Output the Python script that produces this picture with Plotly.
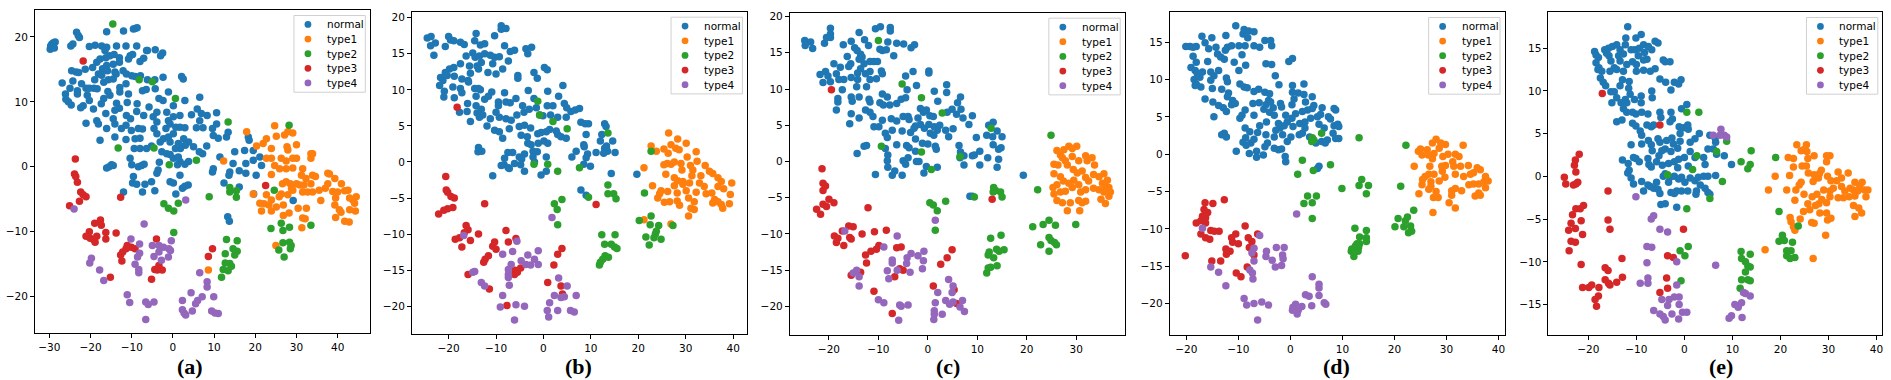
import plotly.graph_objects as go

# t-SNE style embeddings, five panels (a)-(e)
LABELS = ["normal", "type1", "type2", "type3", "type4"]
COLORS = ["#1f77b4", "#ff7f0e", "#2ca02c", "#d62728", "#9467bd"]
TAGS = ["(a)", "(b)", "(c)", "(d)", "(e)"]

# ---- panel (a)
A_NORMAL = [
    [-29.8, 18.1], [-29.4, 18.9], [-29, 19.1], [-28.6, 19.2], [-29.7, 18.6], [-28.8, 18.3],
    [-24.8, 18.6], [-24.3, 18.9], [-23.4, 20.7], [-23, 20.2], [-22.7, 19.9], [-16.1, 20.8],
    [-12, 20.9], [-9.6, 21.2], [-9.2, 21.3], [-8.7, 21.4], [-20.3, 18.5], [-18.9, 18.7],
    [-17.3, 18.6], [-16.1, 18.4], [-13.7, 18.6], [-11.4, 18.6], [-8.8, 18.6], [-6.2, 17.9],
    [-4.3, 18], [-2.5, 17.5], [-3, 17.1], [-24.6, 14.8], [-23.5, 14.6], [-22.9, 14.5],
    [-21.3, 15], [-19.5, 15.3], [-18.5, 16.1], [-17.7, 16.6], [-16.3, 16.8], [-16.5, 17.9],
    [-15.3, 17.1], [-14.3, 17.3], [-13, 16.8], [-13, 16.1], [-14.5, 15.8], [-16.1, 15.6],
    [-17.1, 15.1], [-18.1, 14.3], [-17.3, 14.1], [-15.9, 14.8], [-14.1, 14.6], [-12.1, 14.8],
    [-11.3, 14.3], [-10, 14], [-9.2, 13.9], [-10.8, 16.6], [-10.4, 17.1], [-9.8, 17.3],
    [-8, 16.2], [-7.1, 16.7], [-6.4, 17.9], [-26.9, 12.9], [-26.1, 11.2], [-26, 10.4],
    [-25.4, 10], [-24.7, 9.5], [-25, 12.1], [-24.3, 13.2], [-23.2, 11.7], [-23.2, 11.2],
    [-22.2, 12.8], [-21.1, 12.1], [-20.3, 12.1], [-20.8, 11], [-20.3, 10.2], [-21.8, 9.4],
    [-22.4, 9.1], [-19.2, 12.1], [-18.4, 12], [-19, 13.4], [-16.8, 13], [-15.7, 13.4],
    [-14.5, 13.5], [-13.8, 14.3], [-12.9, 12.2], [-12.9, 11.5], [-11.4, 12.8], [-10.8, 11.2],
    [-11.1, 9.9], [-13, 9], [-14.1, 8.7], [-13.7, 9.8], [-15.8, 11.6], [-16.8, 10.5],
    [-15.3, 11], [-17.4, 9.7], [-19.3, 8.9], [-21.1, 6.7], [-18.5, 7.1], [-18.1, 6.6],
    [-17.7, 4.1], [-16.1, 5.9], [-16.3, 8.2], [-14.5, 7.4], [-14.1, 6.6], [-14.1, 4.6],
    [-12.5, 5.9], [-11.4, 6.4], [-11.3, 7.9], [-10.3, 7.4], [-10.1, 5.6], [-11.4, 4.2],
    [-9.2, 4.3], [-9.4, 2.8], [-8.4, 5.9], [-7.4, 5.8], [-8, 4.4], [-8.8, 8.5], [-8.7, 9.7],
    [-7.1, 7.9], [-7.4, 11.7], [-6.5, 11.9], [-6.2, 13.4], [-7.9, 14], [-4.4, 13.4],
    [-2.4, 13.8], [-4.3, 12], [-3.4, 10.5], [-1.1, 11.5], [-2.4, 10.2], [-3.9, 8.4],
    [-5.8, 9.2], [-4.8, 7.7], [-3.9, 6.9], [-4.6, 5.9], [-3.9, 5.1], [-5.2, 3.2], [-6.4, 2.8],
    [-8, 2.8], [-10.4, 1.3], [-10, 0.3], [-8.4, 0], [-7.6, 0.2], [-7, 0.4], [-16.1, -0.2],
    [-15.5, 0], [-14.9, 0.3], [-14.5, 0.2], [-9.6, -1.5], [-9.8, -2.5], [-8.8, -2.7],
    [-6.8, -2.7], [-7.4, -3.9], [-12, -3.9], [-5.2, -2.3], [-4.4, -3.7], [-3.9, -1],
    [-3.6, -0.5], [-3.3, 0.7], [-2.7, 2.3], [-3.1, 3.8], [-2.3, 4.3], [-1.7, 5.9], [-1.1, 7.1],
    [-1.5, 8.4], [0.1, 9.4], [1.7, 7.9], [0.1, 7.7], [-0.7, 6.6], [0.7, 6.1], [1.7, 6.1],
    [2.9, 6], [4.5, 8], [2.9, 10.2], [2.1, 13.9], [2.5, 13.5], [6.5, 10.7], [5.9, 8.9],
    [6.9, 8.2], [8.3, 7.9], [6.5, 7.1], [5.7, 6], [7.3, 6], [9.6, 5.9], [10.6, 8.3],
    [10.6, 6.6], [9.8, 4.8], [11, 4.4], [8.2, 3.2], [7.2, 2], [6.4, 2.3], [5, 3.1], [3.8, 3.8],
    [2.6, 4.3], [3, 3.3], [1.8, 2.8], [0.6, 2.8], [-0.7, 3.8], [-1.1, 4.6], [0.1, 5.1],
    [1.3, 3.6], [-1.5, 2], [-0.7, 1.9], [0.1, 1.3], [1.3, 1.5], [1.7, 0.8], [1.1, 0.3],
    [2.9, 0.4], [3.8, 0.8], [-0.7, -2.3], [0.1, -2.5], [1.7, -1.3], [0.7, -4.2], [2.3, -3.3],
    [3.7, -2.8], [2.9, -3], [11.4, 1.5], [13, 4.6], [13.4, 5.3], [9.8, -0.3], [9.6, -0.8],
    [12.4, -2.5], [13.8, -0.8], [13.6, -1.3], [14.6, 0.5], [15, 2.3], [16.1, -0.6],
    [17.4, 2.5], [17.7, 0.5], [17.7, -1], [18.3, 4.6], [18.5, 4.1], [19.5, 2.5], [19.5, 1],
    [20.2, -1.3], [21.1, 1.5], [21.5, 0.2], [16.1, -3.1], [19.6, -4.2], [13.3, -7.7],
    [13.7, -8.4], [29.2, -5.2],
]
A_TYPE1 = [
    [17.9, 5.4], [20.3, 3.2], [21.9, 3.6], [22.7, 4.3], [23.9, 2.8], [24.7, 6.3], [25.1, 4.7],
    [27.1, 4.9], [27.9, 5.4], [29.1, 5.2], [27.7, 3.1], [27.9, 2.6], [30, 3.4], [22.7, 1.3],
    [23.9, 1.3], [24.7, 0.2], [25.9, -0.3], [26.3, 1.3], [27.5, 0.9], [27.5, -0.3],
    [29.1, -0.2], [30, 1.3], [29.1, 1.3], [31.5, -0.3], [33.5, 2], [33.9, 2], [33.5, 1.3],
    [31.2, -1.3], [32.3, -1.8], [33.9, -1.3], [34.6, -1.5], [23.9, -1.2], [26.6, -2.6],
    [27.5, -2.3], [28.5, -2.6], [28.8, -3.4], [30, -2.6], [30.8, -2.8], [31.8, -2.8],
    [33.5, -2.6], [35.5, -3.6], [37, -3.3], [37.6, -1], [38, -1.1], [37.6, -2.6], [39.3, -1.8],
    [40.9, -2.6], [38.8, -3.8], [40, -3.9], [39.5, -4.8], [41.7, -3.7], [42.5, -3.6],
    [42.9, -4.8], [43.7, -5.1], [44.5, -4.6], [44.1, -5.6], [42.9, -6.6], [44.3, -6.8],
    [40.4, -6.6], [40.8, -7], [39.3, -5.9], [39.5, -7.8], [41.7, -8.4], [42.8, -8.5],
    [35.9, -5.2], [33.9, -3.9], [32.7, -3.9], [31.5, -3.9], [29.1, -3.6], [27.9, -4.3],
    [26.3, -4.2], [25.8, -4.6], [23.9, -5.1], [22.7, -4.3], [22.1, -5.7], [21.1, -5.6],
    [21.5, -6.8], [23.3, -5.9], [23.9, -6.8], [25.1, -6.2], [26.8, -5.9], [26.8, -7.5],
    [28.2, -7.1], [30.4, -6.4], [31.5, -7.9], [32.1, -8], [32.4, -6.4], [31.3, -9.4],
    [19.5, -4.2], [12.3, 0.9], [25, -12.1], [8.6, -15.9],
]
A_TYPE2 = [
    [-14.6, 22], [-8.2, 13.4], [-5, 13.1], [0.6, 10.5], [-13.3, 2.9], [-4.6, 2.9], [-0.9, 0.3],
    [5.7, 1], [13.4, 6.9], [28.2, 6.4], [8.8, -4.6], [-2.2, -5.7], [-1.1, -6.4], [0.2, -6.8],
    [1.3, -5.6], [0.2, -10.1], [13.8, -3.2], [13.8, -3.9], [15.4, -3.7], [15.4, -4.7],
    [24.6, -3.6], [26.3, -8.7], [23.8, -9.5], [26.7, -9.8], [28.3, -9.3], [33.5, -9],
    [26.7, -11.7], [28.3, -11.6], [28.7, -12.1], [25.7, -12.8], [27, -13.9], [28.5, -12.6],
    [13, -11.2], [15.6, -11.4], [12.7, -13.4], [14.6, -12.6], [15.6, -13], [15, -13.6],
    [12.7, -14.8], [13.8, -14.9], [14.2, -15.3], [12.2, -15.8], [13.4, -16], [11.8, -17],
]
A_TYPE3 = [
    [-21.8, 16.3], [-23.7, 1.2], [-23.9, -1.1], [-23.6, -1.5], [-23.2, -2.4], [-22.4, -3.9],
    [-21.8, -4.3], [-21.1, -4.6], [-22.7, -5.3], [-25.1, -6], [22.5, -2.9], [-12.7, -4.7],
    [-17.6, -8.2], [-19, -8.7], [-17.4, -9], [-20.3, -10], [-21.1, -10.7], [-20.1, -11],
    [-18.5, -10.7], [-19.3, -11.2], [-18.9, -11.6], [-16.3, -10.1], [-16.3, -11.1],
    [-13.8, -10.2], [-11.1, -12.1], [-11.4, -12.6], [-10.1, -12.4], [-9.2, -12.6],
    [-12.7, -13.6], [-12.2, -13.1], [-12.4, -14.5], [-5.2, -17.3], [-15.2, -17], [-4, -11.1],
    [-4.4, -15.8], [-3.4, -15.2], [-2.6, -15.9], [-3.8, -15.9], [9.6, -12.6], [8.6, -13.8],
]
A_TYPE4 = [
    [-24, -6.5], [-7, -8.8], [-10.2, -11.1], [-8.1, -11.9], [-8.1, -13.3], [-8.6, -13.9],
    [-9.2, -15], [-8.3, -15.8], [-8.3, -16.3], [-5, -12.1], [-3.4, -12.1], [-2.3, -12.4],
    [-1, -12.6], [-0.4, -11.4], [-0.6, -12.9], [-1.1, -13.9], [-3.4, -13.1], [-4.6, -13.8],
    [-2.8, -14.4], [3.1, -5.1], [-19.8, -14.1], [-20.2, -14.8], [-17.8, -15.9], [-16.8, -17.5],
    [-11.1, -19.7], [-10.5, -20.9], [-6.6, -20.8], [-6, -21.2], [-4.6, -20.8], [-6.6, -23.5],
    [2.3, -20.6], [2.3, -22], [2.7, -22.5], [3.1, -22.8], [4.7, -22.2], [4.4, -19.4],
    [5.5, -21.1], [6, -20.6], [7.1, -20], [6.5, -16.3], [8.3, -17.7], [8.3, -18.5],
    [9.9, -20], [9.4, -22.2], [10.2, -22.5], [11, -22.6],
]

# ---- panel (b)
B_NORMAL = [
    [-24.5, 17.2], [-23.7, 17.4], [-23.8, 16.1], [-22.8, 16.5], [-23.1, 14.8], [-20.7, 16],
    [-20, 17.4], [-19.6, 16.9], [-18.9, 16.8], [-17.5, 16.6], [-16.7, 16.3], [-14.5, 16.8],
    [-14.2, 17.8], [-13.3, 16.2], [-12.4, 16.4], [-10.3, 17.5], [-8.9, 18.9], [-8.9, 18.4],
    [-7.9, 18.5], [-8.2, 16.1], [-7, 15.3], [-6.1, 15.5], [-3.7, 15.7], [-2.5, 15.9],
    [-3.3, 15], [-16.3, 14.7], [-14.9, 15.1], [-14.4, 14.5], [-13.5, 14.7], [-12.4, 15],
    [-11.2, 14.8], [-10.3, 14.5], [-9.3, 14.6], [-7.4, 14], [-10.7, 13.6], [-13.1, 13.8],
    [-14, 13.3], [-15.6, 13.3], [-17.5, 13.6], [-18.9, 13.1], [-19.8, 12.9], [-20.7, 12.4],
    [-21.7, 11.7], [-21.2, 11.3], [-20.3, 12], [-18.8, 11.9], [-17.2, 11.5], [-15.9, 11.3],
    [-15.4, 12.3], [-13.7, 12.9], [-11.7, 12.4], [-10, 12.2], [-8.6, 12.9], [-5.4, 12],
    [-5.4, 11.6], [-2, 12.4], [-1.3, 11.6], [0.2, 13.1], [0.8, 12.8], [-21.9, 10.6],
    [-20.9, 9.8], [-21, 9], [-19.1, 10.4], [-18.8, 8.9], [-17.5, 10.2], [-17.2, 9.6],
    [-15.8, 11.1], [-14.5, 10.2], [-13.7, 10.2], [-13.3, 10], [-14.2, 9.1], [-12.4, 8.7],
    [-10.9, 9.7], [-11.6, 9.1], [-9.5, 8.3], [-8.2, 9.6], [-7.9, 8.3], [-7, 8.2], [-5.8, 8.8],
    [-3.2, 9.9], [-2, 8.8], [0.9, 9.8], [3.2, 9.1], [4.1, 10.6], [-16, 8.1], [-17.7, 6.9],
    [-16.1, 7], [-14.2, 7.8], [-14, 6.8], [-13.1, 7.3], [-12.8, 6.5], [-13.5, 6.2],
    [-15.4, 5.6], [-11.9, 5], [-11.2, 6], [-10, 6.9], [-9.5, 7.8], [-9.3, 6.2], [-7.9, 6],
    [-6.8, 5.8], [-5.6, 6.5], [-4.4, 7.8], [-4.1, 6.9], [-3, 7.3], [-1.5, 7.5], [-0.8, 6.5],
    [-0.1, 6.4], [0.8, 7.8], [2, 7.8], [1.5, 6.5], [3, 6.2], [4.8, 6.2], [4.4, 8.1],
    [4.9, 7.5], [5.8, 7], [6.7, 7.2], [7.6, 7.4], [-10.3, 4.4], [-9.3, 4.2], [-8.6, 3.3],
    [-7.2, 4.6], [-5.1, 4.9], [-4, 5.1], [-2.7, 4.7], [-4.7, 3.7], [-3.4, 3.5], [-3.3, 2.6],
    [-2.6, 2.4], [-1.2, 3.9], [-0.5, 4.1], [0.6, 4.2], [1.3, 4.5], [2.7, 4.3], [3, 3.8],
    [3.7, 3.5], [4.8, 3.3], [-1.1, 2.6], [0.1, 2.9], [0.9, 2.6], [-2.2, 1.5], [-1.3, 1.4],
    [-13.8, 1.4], [-13, 1.5], [-13.7, 2], [-7.5, 1.3], [-6.5, 1.3], [-8.2, 0.5], [-8.3, -0.4],
    [-8.9, -0.5], [-7.4, -0.8], [-6.1, -0.2], [-5.1, 0.7], [-4, 1.1], [-4.6, 0.4],
    [-4.8, -0.4], [-4, -1.3], [-2.2, 0.7], [-1.9, 0], [0.6, 0.7], [-0.5, -1.8], [0.6, -1.3],
    [-7.2, -0.9], [-10.7, -1.9], [9, 3.8], [8.5, 2.4], [8.6, 2.1], [9.3, 1.1], [9, 0.6],
    [9.9, -0.6], [6, 0.7], [6.9, 1.5], [8.5, -0.3], [7.9, 5.5], [8.8, 5.3], [9.5, 5.3],
    [12.9, 5.3], [13.2, 4.9], [12.3, 3.8], [12, 2.9], [13.3, 2.2], [14.6, 2.9], [12.9, 1.9],
    [13.5, 1.5], [15.1, 1.3], [11.1, 1.3], [12.7, 1.2], [14.3, -1.6], [19.7, -1.7],
    [7.9, -3.9], [9, -4.6],
]
B_TYPE1 = [
    [26.4, 4], [22.7, 2.2], [25.4, 1.8], [26.9, 2.4], [28.3, 3.2], [30.1, 2.6], [27.9, 1.9],
    [28.6, 1.7], [23.8, 1.5], [26.3, 1.2], [30.3, 0.7], [32.2, 1.4], [32.4, 0.1],
    [21.2, -0.8], [25.4, -0.4], [26.1, -0.2], [26.9, -0.3], [27.6, 0], [29, -0.2],
    [29.2, -1.1], [31, -0.5], [31.5, -1.1], [34.1, -0.5], [35, -1.3], [25.8, -1.7],
    [27.6, -2.2], [28.3, -2.6], [29.4, -2.7], [31.3, -1.9], [33.2, -1.9], [35.7, -1.6],
    [36.8, -2.2], [37.5, -2.7], [39.7, -2.9], [23, -3.3], [27.6, -3.3], [29.4, -3.1],
    [30.8, -2.9], [32.9, -2.9], [33.9, -3.4], [36.8, -3.4], [38, -3.7], [24.8, -4],
    [26.2, -4.1], [24.5, -4.4], [28.2, -4.3], [30.1, -4], [32.2, -4.2], [34.3, -4.4],
    [35.5, -4.3], [39.4, -4.5], [24.1, -5], [30.6, -5], [36.1, -5.2], [36.8, -5.5],
    [25.5, -5.6], [26.6, -5.5], [28.2, -5.4], [28.7, -6], [31.8, -5.5], [35.7, -5.7],
    [37.5, -5.9], [37.8, -6.4], [39.2, -5.8], [31.1, -6.4], [31.8, -6.6], [30.6, -7.5],
    [21.2, -8], [26.9, -8.6],
]
B_TYPE2 = [
    [-1.2, 8.4], [-0.8, 6.5], [2, 5.6], [5, 4.6], [13.6, 4], [22.7, 1.5], [-2, -0.3],
    [0.9, -0.3], [3, -1.3], [7.6, -0.8], [13.6, -3.2], [13.6, -4.4], [14.8, -4.4],
    [15.3, -5.1], [9.5, -4.9], [21.3, -4.3], [2.3, -5.8], [3.9, -5.2], [2.9, -6.6], [3, -8.7],
    [20.2, -8.1], [22.7, -7.5], [22.5, -8.7], [24.3, -8.8], [23.8, -9.6], [23.6, -10],
    [21.6, -10.4], [23.3, -10.5], [24.8, -10.7], [22.3, -11.5], [27.3, -8.8], [12.3, -10.1],
    [15.1, -10.1], [12.9, -11.4], [14.3, -11.4], [15, -11.8], [15.5, -12], [13, -13],
    [13.7, -13.2], [12.5, -13.5], [12, -13.9], [11.8, -14.3],
]
B_TYPE3 = [
    [-18.2, 7.6], [-20.6, -2], [-20.5, -3.9], [-20.2, -4.2], [-19.5, -4.8], [-18.8, -5],
    [-22.1, -7.2], [-21, -6.7], [-20.2, -6.5], [-19.1, -6.3], [-12.4, -5.8], [11.1, -5.9],
    [-16.3, -8.8], [-15.9, -9.4], [-16.7, -9.8], [-18.6, -10.7], [-17.7, -10.5],
    [-15.4, -10.9], [-17.2, -11.8], [-13.7, -10], [-10.3, -11.1], [-10.7, -11.7],
    [-10, -12.1], [-11.6, -13], [-12.3, -13.5], [-12.6, -13.9], [-11.4, -17.6], [-15.9, -15.6],
    [-7.9, -9.5], [-5.8, -10.6], [-7.4, -11.1], [-6, -15], [-5.5, -15.3], [-4.8, -14.7],
    [-6.1, -15.6], [3.9, -12], [3, -12.8], [2.2, -14.3], [0.9, -16.7], [3.7, -17.2],
    [4, -18.3], [-7.7, -19.9],
]
B_TYPE4 = [
    [-16.8, -10.2], [1.8, -7.7], [-5.6, -11], [-6.5, -12.4], [-8.6, -12.8], [-6.8, -14.2],
    [-7.4, -14.9], [-7.4, -15.6], [-7.4, -16], [-4.7, -13.7], [-3.7, -14.2], [-3.3, -12.9],
    [-2.7, -14.3], [-1.9, -13.5], [-1.1, -12.3], [-1.1, -14.2], [-14.5, -15.2],
    [-14.9, -15.3], [-13.1, -16.7], [-12.4, -17.2], [-7.2, -17.1], [-8.6, -18.5],
    [-9.1, -20.1], [-5.8, -19.8], [-4, -20], [-6.1, -21.9], [3.2, -16.1], [5, -17.2],
    [3.7, -18.8], [4.4, -18.7], [2.3, -18.5], [1.3, -19.5], [0.8, -20.6], [1.1, -21.5],
    [3, -20.6], [5.7, -20.6], [6.5, -20.8], [6.9, -18.5],
]

# ---- panel (c)
C_NORMAL = [
    [-24.9, 16.7], [-23.7, 16.5], [-24.8, 16], [-23.3, 15.6], [-20.9, 16.3], [-20.5, 17.1],
    [-19.7, 17.6], [-19.7, 18.4], [-19.7, 17.1], [-17.1, 16.1], [-15.5, 16.6], [-13.9, 17.8],
    [-14.8, 15.7], [-12.8, 16.8], [-12, 16], [-10.6, 18.3], [-9.6, 18.6], [-9.7, 15.5],
    [-8.1, 16.5], [-7.6, 18.5], [-7.6, 18], [-6.3, 16.3], [-6.9, 14.6], [-4.9, 16.2],
    [-3.4, 15.7], [-2.7, 16.1], [-9.2, 15.3], [-8.4, 15.4], [-16.3, 14.5], [-14.3, 15.3],
    [-13.6, 14.8], [-13.3, 14.4], [-13.9, 14.1], [-15.6, 13.5], [-16, 13.1], [-17.7, 13],
    [-19, 13.5], [-21.8, 12], [-20.7, 12.4], [-20.2, 11.8], [-21.2, 10.9], [-19.7, 11],
    [-18.5, 12.1], [-18, 11.3], [-17, 11.3], [-15.5, 11.6], [-13.6, 12.8], [-12.9, 13.5],
    [-11.7, 13.8], [-10.9, 13.8], [-10.2, 13.8], [-11.7, 12.4], [-12.6, 12.1], [-14.2, 12.2],
    [-9.4, 12.5], [-9.2, 12.1], [-10.4, 11.4], [-11.7, 11.3], [-14.2, 11.3], [-12.4, 10.3],
    [-14.4, 10.3], [-17.3, 9.9], [-18.2, 8.7], [-18.2, 8.2], [-18.5, 7.1], [-15.5, 8.9],
    [-15.3, 8.3], [-13.9, 8.9], [-11.9, 8.6], [-11.7, 8.2], [-9.7, 8.1], [-9.2, 9.3],
    [-8.2, 8.9], [-9, 7.8], [-7.7, 7.8], [-6.3, 8], [-5.4, 8.6], [-4.5, 8.8], [-4.2, 9.9],
    [-3, 12.4], [-4.5, 11.8], [-2.3, 10.5], [0.2, 12.5], [0.2, 12.2], [1.3, 9.7], [3.8, 10.6],
    [3.8, 9.5], [2, 8.3], [6.6, 8.9], [6, 8.1], [6.7, 7.2], [4.9, 7.2], [3.9, 6.8],
    [-15.5, 6.6], [-15.8, 5.2], [-13.9, 6], [-12.6, 7.1], [-11.7, 6.8], [-11.1, 6.2],
    [-9.2, 5.7], [-7.4, 5.9], [-6.3, 5.6], [-5, 6.2], [-4, 6.2], [-3.8, 5.8], [-2, 6],
    [-1.5, 7.3], [-0.9, 6.8], [-0.3, 7.1], [0.4, 6.3], [1.1, 6.2], [-1.5, 5.1], [-2.5, 4.9],
    [-2.8, 4.6], [-0.7, 4.6], [0.2, 5.1], [1.3, 4.8], [1.9, 4.3], [0.5, 3.9], [1.2, 3.6],
    [2.4, 5], [3.6, 4.3], [4.2, 3.4], [5.1, 4.5], [5.8, 6.5], [7.1, 6], [8.3, 5.1], [9, 6.3],
    [-10.9, 4.8], [-9.9, 4.8], [-8.6, 3.9], [-8.2, 3.3], [-7.2, 4.3], [-5.2, 4.2], [-3.5, 4],
    [-2.5, 3.1], [-1.1, 2.5], [0, 2.4], [1.5, 2.1], [1.7, 1.7], [-6.3, 2.3], [-4.3, 2.2],
    [-3.8, 1.9], [-12.9, 2.1], [-12.4, 2.2], [-14.3, 1.1], [-8.6, 1.8], [-8.1, 0.9],
    [-8.2, 0.1], [-8.1, -0.8], [-10.6, -1.8], [-7.2, -1.9], [-6.7, -1.3], [-5.2, -1.9],
    [-5, 0.1], [-4.5, -0.4], [-4, 0.5], [-2.3, 0], [-1.8, 0], [-0.8, -1.6], [-0.3, -0.7],
    [1.9, -0.8], [-2.5, 1.4], [6.3, 2.2], [6.6, 1.3], [7.3, 0.8], [7.3, -0.5], [6.5, 0.5],
    [9, 0.8], [9.8, 3.3], [9.4, 0.9], [10.5, 1.4], [10.5, -0.5], [11.9, 3.6], [12.3, 5],
    [13.2, 5.4], [13.1, 3.4], [13.2, 2.3], [14, 4.2], [15, 3.4], [14.3, 1.7], [14.8, 1.9],
    [12.1, 0.5], [14.3, 0.3], [14, -0.8], [19.3, -1.9], [8.5, -4.8], [9, -4.8],
]
C_TYPE1 = [
    [26.1, 1.5], [26.8, 0.9], [27.5, 1.6], [28.5, 2.1], [29.2, 1.8], [30.1, 2.1], [27.8, 0.1],
    [27.2, 0.5], [25.5, -0.4], [26.3, -0.5], [28.2, -0.5], [29.2, 0.7], [30.5, 0.1],
    [31.9, 0.8], [33.2, 0.5], [32.2, 0.1], [33.7, -0.5], [29.4, -1.1], [30.2, -1.6],
    [31.2, -1.3], [25.5, -1.7], [26.8, -2.1], [26.1, -3.2], [27.4, -2.7], [28.5, -3],
    [29.5, -2.6], [30.5, -3.2], [31.9, -2.2], [32.5, -2.7], [33.5, -1.8], [34.6, -2.1],
    [35.6, -1.7], [35.3, -3], [35.9, -3.4], [36.3, -2.6], [36.6, -3.6], [36.9, -4.2],
    [36.6, -4.8], [35.6, -4.2], [34.6, -3.9], [33.5, -3.7], [31.9, -3.9], [30.9, -4.2],
    [29.2, -3.6], [27.8, -4.1], [26.8, -4.2], [25.5, -4.5], [25.3, -3.6], [26.1, -5.4],
    [27.2, -5.7], [28.8, -5.7], [30.5, -5.4], [31.2, -5.7], [31.9, -5.5], [30.7, -6.8],
    [28.2, -6.8], [35, -5.2], [35.9, -5.8],
]
C_TYPE2 = [
    [-10, 16.7], [-5.2, 10.7], [-1.3, 8.8], [2.9, 6.7], [12.8, 4.6], [-9.4, 2.1], [-1.3, 1.3],
    [0.7, -1.1], [6.5, 0.7], [24.9, 3.6], [9.4, -4.9], [13.3, -3.6], [13.7, -4], [13.2, -4.2],
    [14.7, -4.2], [15, -4.9], [0.4, -5.7], [1.1, -6], [1.9, -6.8], [3.6, -5.5], [1.5, -9.5],
    [22.2, -3.9], [21.2, -9], [23.3, -8.7], [24.5, -8.1], [25.8, -8.8], [29.9, -8.7],
    [24.5, -10.5], [24.9, -10.9], [25.6, -11.2], [26, -11.5], [22.8, -11.5], [24.5, -12.4],
    [12.7, -10.6], [14.8, -10.2], [12.4, -12.5], [12.2, -12.9], [13.9, -12.1], [14.4, -12.4],
    [15.4, -12.2], [13.3, -13.3], [14, -14.4], [12.2, -14.7], [12.7, -14.6], [11.9, -15.4],
]
C_TYPE3 = [
    [-19.5, 9.9], [-21.4, -1], [-21.2, -3], [-20.7, -3.4], [-21.2, -4], [-20, -5.2],
    [-19, -5.7], [-21.2, -5.9], [-20.5, -6.2], [-22.5, -6.6], [-21.7, -7.3], [-12.1, -6.4],
    [13, -5.2], [-16, -8.9], [-15.1, -9], [-17.3, -9.6], [-18.9, -10.3], [-18.2, -10.6],
    [-18.5, -11.2], [-17, -11.6], [-15.8, -10.5], [-15.5, -10.7], [-13.3, -10], [-10.8, -9.7],
    [-8.4, -9.5], [-9.9, -11.6], [-10.4, -12.1], [-11.5, -12.4], [-12.6, -12.9], [-12.4, -14],
    [-13.6, -15.3], [-15.5, -15.7], [-10.9, -17.9], [-6.3, -11.9], [-5.4, -11.8],
    [-5.7, -14.8], [-5, -15], [-6.7, -15.9], [-7.2, -21], [2.6, -14.2], [3.9, -13.3],
    [4.9, -12.2], [1.1, -17.2], [5.3, -17.7], [5.8, -19.6],
]
C_TYPE4 = [
    [-16.8, -9.6], [1.5, -8.1], [-6.2, -10.3], [-8.9, -11.8], [-7.2, -13.6], [-7.2, -14],
    [-8.2, -15.1], [-7.9, -16.2], [-6.2, -15], [-4.2, -13.3], [-4.3, -14.1], [-3.4, -12.7],
    [-2, -13], [-0.8, -12.4], [-0.9, -13.7], [-1.1, -14.8], [-3.6, -15.3], [-15.1, -15.4],
    [-14.4, -15], [-13.9, -15.9], [-13.9, -17.2], [-10, -19.1], [-8.9, -19.5], [-5.7, -19.8],
    [-5.4, -20], [-4, -19.8], [-5.9, -21.9], [2, -18.1], [1.5, -19.5], [1.3, -20.6],
    [1.3, -21.1], [1.2, -21.8], [2.9, -21.1], [3.6, -19.2], [4.2, -16.3], [5.1, -17.2],
    [4.9, -18.1], [4.4, -19.7], [5.1, -19.4], [6.5, -20.1], [7, -19.2], [7.4, -20.7],
]

# ---- panel (d)
D_NORMAL = [
    [-20.1, 14.4], [-19.3, 14.4], [-18.7, 14.3], [-18.1, 14.4], [-18.7, 13.1], [-19.1, 11.6],
    [-18.1, 12.3], [-18.3, 11.2], [-17.9, 10.8], [-18.5, 10], [-18.1, 9.4], [-17.2, 9],
    [-18.3, 9.2], [-17.4, 10.3], [-16.9, 11], [-17, 15.8], [-16.4, 14.9], [-15.7, 14.1],
    [-15.1, 15.6], [-14.3, 14.3], [-14, 13.4], [-15.9, 12.4], [-15.3, 11], [-14.7, 10.5],
    [-13.8, 11.2], [-12.7, 12.7], [-12.4, 15.9], [-12.1, 14.3], [-11.3, 14.5], [-12.5, 13.9],
    [-13.4, 13], [-12.3, 10.2], [-12.1, 9.7], [-10.8, 12.3], [-10.5, 17.2], [-9.9, 14.5],
    [-9.3, 13.3], [-9.9, 11.2], [-9.1, 16.1], [-8.7, 14.5], [-8.6, 11.9], [-8.9, 16.7],
    [-8, 16.5], [-8.2, 15.6], [-7, 16.4], [-7, 14.5], [-5.9, 14.3], [-4.9, 15.2],
    [-3.8, 15.2], [-3.6, 14.5], [-4.7, 12.1], [-3.6, 12], [-0.3, 12.4], [0.4, 12.8],
    [-15.3, 9.9], [-15, 8.8], [-13.2, 8.7], [-11.9, 8.2], [-12.1, 7.7], [-11.1, 7.2],
    [-9.7, 9.4], [-8.9, 9], [-8.3, 8.9], [-7, 8.4], [-6.1, 8.7], [-4.9, 8.3], [-4, 8.1],
    [-6, 6.9], [-4.2, 7.2], [-2.9, 10.5], [-2.2, 9.3], [-16.4, 7.4], [-14.9, 7], [-14.7, 5],
    [-13.8, 6.5], [-12.9, 6.2], [-12.3, 5.7], [-11.3, 6.6], [-10.6, 6.8], [-9.7, 4.8],
    [-9.3, 5.2], [-8.7, 5.9], [-7, 5.2], [-7.2, 6.8], [-5.1, 6], [-4.7, 6.6], [-3.8, 7],
    [-3.3, 6.2], [-4, 5.6], [-3.1, 5.2], [-1.9, 6.8], [-1.7, 6.3], [-0.9, 5.2], [0.3, 6.6],
    [0.7, 7.4], [0.4, 8.3], [0.4, 9.2], [1.5, 8.2], [2.6, 9.4], [2.6, 8], [2.9, 7], [3.3, 5.9],
    [4.2, 7.7], [4.5, 6.5], [4.2, 6.1], [2.3, 5.7], [1, 5.4], [0.3, 4.8], [-0.6, 4.3],
    [0.5, 3.7], [1.8, 4.1], [2.8, 4.3], [3.9, 4.8], [5.2, 5], [6.1, 6.2], [5.8, 5.3], [7.3, 5],
    [8.4, 6.1], [8.7, 5.9], [5.5, 4], [6.5, 3.5], [7.7, 4.7], [8.4, 3.8], [9.1, 4], [9.3, 3.7],
    [8.2, 2.8], [8.7, 2.1], [9.3, 2.1], [7.1, 1.9], [6, 1.7], [4.9, 1.5], [3.7, 2.3],
    [2.3, 2.8], [2.8, 3.5], [1.7, 2.6], [0.1, 2.3], [-0.6, 1.7], [-1.5, 2.6], [-2, 3.5],
    [-2.8, 3.2], [-3.1, 2.3], [-2.3, 4.1], [-1.2, 3.8], [-4.6, 4.3], [-5.9, 3.8], [-6.3, 2.9],
    [-7.8, 3], [-8.7, 3.5], [-8.6, 2.2], [-9.1, 1.6], [-8.5, 1.2], [-7.6, 1.5], [-7, 2],
    [-4.7, 2.6], [-4.4, 1.5], [-4.9, 1], [-3.1, 0.8], [-2.3, 0.6], [-1.7, 0.7], [-1, -0.3],
    [-0.9, -1], [-5.2, -0.1], [-6.5, -0.4], [-6.5, 0.4], [-7.9, 0.1], [-10.4, 0.4],
    [-12.7, 2.8], [-12.3, 2.3], [-13.2, 2.6], [5.5, -1.6], [5.2, -1.9], [4.2, 2.1], [6.7, 1.5],
]
D_TYPE1 = [
    [25, 0.7], [24.6, 0.4], [26.3, 0.6], [27.3, 1.5], [28, 2], [28.9, 1.5], [28.6, 0.8],
    [29.8, 1.3], [33.2, 1.2], [25.3, -0.1], [26.5, -0.1], [27.6, 0.1], [27.3, -0.6],
    [29.3, -0.3], [30.3, 0], [31.7, 0], [32.4, -0.3], [26.8, -1.6], [23.8, -1.6], [29.1, -1.6],
    [29.8, -1.5], [31.2, -1], [31.4, -1.6], [32.7, -1.6], [34.2, -1.5], [35.9, -1.8],
    [36.5, -2.1], [35.2, -2.5], [31.7, -2.7], [33.3, -3], [34.6, -2.7], [37.5, -3], [25.9, -3],
    [26.6, -2.7], [27.6, -2.7], [29.2, -2.3], [29.7, -3.1], [28.6, -3.6], [27, -3.7],
    [25.4, -3.4], [25.3, -4.1], [27, -4.3], [26.6, -4.7], [28, -5], [31, -4.9], [31.7, -4.6],
    [32.9, -4.9], [34.3, -4.1], [35.2, -4], [36.2, -4], [37.2, -3.7], [38, -3.6], [37.5, -4.5],
    [36.2, -5.2], [35.5, -5.6], [36.5, -5.5], [24.7, -5.3], [27.5, -5.8], [28.4, -5.8],
    [31, -5.5], [30.5, -6.5], [31.7, -7.2], [27.4, -7.8],
]
D_TYPE2 = [
    [4.2, 2.2], [4.5, 1.9], [4.1, 1.7], [6, 2.8], [13.2, 2.2], [22.2, 1.2], [2.3, -0.8],
    [1.4, -2.7], [4.4, -2.2], [7.7, -1.4], [9.9, -4.6], [13.2, -4.2], [13.7, -3.4], [15, -4.2],
    [14.6, -5.3], [21.2, -4.3], [3.3, -5.6], [5, -5.6], [2.6, -6.6], [4.2, -6.5], [4.2, -8.6],
    [23.7, -7.5], [22.5, -8.4], [20.7, -8.6], [22.1, -8.9], [20.1, -9.7], [21.8, -9.7],
    [23.1, -9.6], [23.3, -10.3], [22.7, -10.5], [12.4, -9.9], [14.6, -10.2], [13.3, -11.1],
    [14.6, -11.2], [14.6, -11.7], [12.8, -12], [12.5, -12.3], [11.8, -12.7], [11.7, -13],
    [13.1, -12.5], [13.3, -12], [12.2, -13.7], [13, -13],
]
D_TYPE3 = [
    [-12.7, -6.1], [-16.4, -6.5], [-14.9, -6.6], [-16.6, -7.4], [-15.9, -7.8], [-16.9, -8.3],
    [-16.3, -8.5], [-18.1, -9.2], [-17.2, -8.9], [-16.3, -9.2], [-17.2, -10.7], [-16.3, -11.2],
    [-15.5, -11.4], [-15.3, -10.2], [-14.6, -10.3], [-13.7, -10.3], [-20.2, -13.6],
    [-15.1, -14.3], [-13.4, -14.3], [-12.4, -12.7], [-12.3, -13.4], [-11.6, -13],
    [-11.3, -11.2], [-10.5, -10.7], [-11.1, -11.8], [-10, -12], [-8.7, -9.6], [-8.1, -11.2],
    [-7.4, -11.7], [-7.9, -12.5], [-7.1, -12.6], [-7, -13.5], [-6.3, -10.7], [-10.4, -15.9],
    [-9.5, -16.4], [-8.3, -15.1],
]
D_TYPE4 = [
    [-16.9, -9.9], [1.2, -8], [-5.9, -10.9], [-7, -12.6], [-7.4, -13.2], [-7.8, -15.5],
    [-7.3, -15.9], [-7.2, -16.7], [-7, -14.3], [-4.6, -13], [-4.7, -13.7], [-3.5, -14.2],
    [-2.7, -12.5], [-2.9, -15.1], [-1.7, -14.9], [-1.2, -12.5], [-1.5, -13.5], [-1.4, -14],
    [-15.3, -15.1], [-13.8, -15.8], [-12.4, -17.6], [-8.9, -19.3], [-8.4, -20.2], [-7, -20],
    [-5.5, -19.8], [-4.2, -20.2], [-6.3, -22.2], [0.5, -20.5], [1, -20.1], [1.5, -20.9],
    [1.3, -21.4], [2.2, -20.4], [2.9, -18.8], [3.6, -19], [4.1, -20.3], [4.2, -16.4],
    [5.5, -17.4], [5.5, -17.9], [5.5, -18.9], [6.5, -19.9], [6.8, -20.1], [0.4, -20.9],
]

# ---- panel (e)
E_NORMAL = [
    [-11.8, 17.5], [-18.7, 14.6], [-18.4, 14.2], [-17.9, 13.9], [-18.4, 13.3], [-17.8, 12.7],
    [-18, 12.5], [-17.2, 12.3], [-16.6, 14.8], [-15.8, 15], [-15, 15.2], [-16.2, 14.4],
    [-15.7, 14.1], [-15.3, 13.5], [-15.5, 12.3], [-14.6, 12.7], [-14.1, 15.4], [-13.4, 14.8],
    [-13.7, 14.1], [-13.4, 13.5], [-14.1, 12.5], [-12.7, 14.3], [-12.3, 15.4], [-12.2, 16.2],
    [-12, 13.1], [-12.7, 12.3], [-11.1, 14.8], [-10.3, 14.8], [-10.1, 16.2], [-9, 16.6],
    [-9.6, 14.1], [-10.8, 13.4], [-10, 13.1], [-9.4, 15], [-8.5, 15.4], [-8.3, 14.5],
    [-7.8, 13.7], [-8.5, 13.6], [-7.5, 15.2], [-6.8, 14.8], [-6.1, 15.8], [-5.5, 15.6],
    [-7.1, 12.3], [-6.1, 12.6], [-8.5, 12.4], [-10, 12.3], [-4.4, 13.6], [-4, 13.4],
    [-3, 13.4], [-5.1, 11.4], [-3.9, 11], [-2.8, 10.1], [-2.1, 11], [-1.2, 10.8], [-0.7, 11.3],
    [-17.5, 11.5], [-16.9, 11], [-16.4, 10.6], [-15.3, 9.9], [-14.6, 9.9], [-15.1, 8.6],
    [-14.1, 9.2], [-13.4, 10.6], [-12.9, 11.3], [-11.5, 11.1], [-11.6, 10.3], [-12.3, 9],
    [-13.2, 8.6], [-12.7, 7.9], [-12, 8.6], [-11.3, 9.6], [-10.4, 9], [-9, 9.4], [-9, 8.6],
    [-8.9, 7.5], [-10.1, 7.3], [-10.8, 7.5], [-6.8, 10], [-6.7, 9.2], [-7.6, 7.3], [-12, 7.5],
    [-14.1, 6.4], [-13, 6.6], [-10.8, 6.2], [-10.1, 5.9], [-7.8, 6], [-6.9, 5.8], [-6.4, 6],
    [-5.1, 7.5], [-4.9, 6.9], [-2.8, 7.5], [-2.5, 6.7], [-3, 6.4], [-0.6, 7.9], [0.5, 8.4],
    [-1.1, 5.8], [-0.2, 5.7], [0.8, 5.5], [-9.2, 5.3], [-8.9, 4.8], [-7.5, 4.2], [-5.5, 4.4],
    [-5.1, 4], [-3.7, 4.2], [-2.6, 4.5], [-2.3, 3.8], [-0.9, 5], [-0.9, 4.1], [-1.4, 3.3],
    [1.2, 4], [2.2, 4.4], [3.1, 5], [4, 2.2], [2.2, 2.2], [4.3, 1.4], [5.3, 4.8], [6.4, 4.5],
    [6.5, 4], [6, 3.2], [6.7, 2.6], [4.9, 3.2], [1.2, 2.9], [0, 2.2], [-1.2, 2], [-2.8, 2.9],
    [-4, 3.2], [-4.7, 3], [-5.3, 2.4], [-6.7, 3], [-6.9, 3.7], [-8.9, 3.8], [-11.1, 3.7],
    [-10.6, 2.2], [-10.1, 2.1], [-12.9, 1.9], [-11.7, 1.5], [-9.4, 1.7], [-7.6, 2.1],
    [-7.4, 1.4], [-6.9, 1.1], [-5.8, 1.7], [-4.6, 1.3], [-3.3, 1.5], [-2.1, 1.7], [-1.4, 1],
    [0.8, 1.2], [-11.5, 0.7], [-11.8, 0.4], [-11.1, -0.2], [-10.6, -0.9], [-8.9, -0.6],
    [-7.6, -1], [-8.5, -1.7], [-7.1, -1.2], [-6.4, -1.4], [-5.5, -1.5], [-5.1, -2],
    [-5.8, -0.7], [-4.4, 0], [-4, 0.3], [-3, -0.1], [-3.3, -0.7], [-2.1, 0], [-1.2, -0.3],
    [-0.6, -0.1], [0.1, -0.7], [1.2, -0.2], [2.2, -0.5], [2.9, -0.1], [4, 0], [4.9, 0],
    [6.5, 0.1], [-2.8, -1.9], [-1.6, -1.7], [-0.6, -1.7], [0.7, -1.7], [2.5, -1.7],
    [2.4, -2.1], [3.3, -1], [4.3, -1.4], [4.9, -1.9], [5.3, -2.1], [-4.9, -3.3], [-4, -3.2],
    [-1.6, -3.6], [-2.1, -2], [9.8, 1.4], [8.3, 2.4], [0.7, 6],
]
E_TYPE1 = [
    [23.4, 3.7], [25.4, 3.7], [21.6, 2.2], [22.7, 2.1], [24.3, 3], [24.8, 3.1], [25.5, 2.9],
    [25.7, 2.1], [27, 2.4], [29.6, 2.4], [30.3, 2.4], [29.6, 1.7], [18.9, 0], [21.9, 0.1],
    [22.7, 1.1], [24.5, 1.2], [25.4, 1.2], [25.8, 0.4], [27, 0.2], [28.5, 0.7], [28.1, 0.3],
    [24.3, -0.7], [23.9, -1], [26.8, -0.6], [27.9, -0.2], [29.8, 0], [30.5, -0.5],
    [31.7, -0.5], [32, 0.5], [34.1, 0.4], [32.7, -0.2], [35.5, -0.7], [37, -0.7], [36.5, -1.1],
    [17.5, -1.6], [21.3, -1.6], [23.2, -1.6], [24.9, -2.1], [27.6, -2.1], [29, -1.6],
    [30.3, -1.7], [31, -1.4], [32.7, -1.2], [33.4, -1.7], [34.5, -1.4], [35.2, -1.6],
    [36.1, -1.7], [37.5, -1.6], [38.2, -1.6], [37.8, -2.4], [35.5, -2.3], [34.3, -2.4],
    [33.1, -2.5], [32, -2.5], [30.3, -2.4], [28.6, -2.7], [26.6, -2.4], [23, -2.8],
    [24.8, -4.1], [25.7, -3.2], [26.1, -3.9], [27.3, -3.4], [28, -3.2], [29.6, -3.1],
    [35.2, -3.4], [36.3, -3.7], [36.9, -4.3], [35.5, -4.7], [28.2, -4.3], [29.6, -4.3],
    [30.5, -4.9], [29.8, -5.1], [22, -4.8], [22.2, -5.3], [22.7, -5.9], [23, -6.3],
    [24.1, -5], [26.5, -5.4], [27, -5.5], [29.4, -6.9], [16.8, -8.6], [26.8, -9.6],
]
E_TYPE2 = [
    [0.5, 7.5], [3, 7.5], [8.8, 4.1], [6.7, 2.9], [2.6, 2.4], [13.9, 3], [11.8, 1.7],
    [13.2, 0.9], [13.7, 1.4], [19, 2.2], [1.7, 0.8], [-3.5, 0.2], [7.9, -0.6], [5.3, -2.6],
    [0.5, -3.8], [19.7, -4.1], [23.7, -5.8], [20.4, -6.9], [19.7, -7.6], [20.8, -7.5],
    [22.5, -7.7], [21.3, -8.7], [22.2, -8.7], [21.3, -9.3], [22, -9.6], [23, -9.5],
    [-0.9, -8.7], [0.8, -8.2], [0.1, -9.3], [-0.7, -12.2], [11.8, -8.8], [13.7, -9.1],
    [11.9, -9.6], [12.7, -10], [13.2, -10.5], [13.7, -10.6], [11.9, -12.1], [13.2, -12.1],
    [13.7, -12.2], [11.6, -13.1], [12.7, -11.2],
]
E_TYPE3 = [
    [-17.1, 9.7], [-5.1, 6], [-21.9, 2.6], [-22.7, 1.9], [-22.9, 1.3], [-22.6, 0.5],
    [-25, -0.1], [-24.7, -0.9], [-23.1, -1], [-22.6, -0.9], [-22.2, -0.7], [-15.9, -1.7],
    [-21, -3.4], [-21.7, -3.8], [-22.6, -3.8], [-23.3, -4.5], [-21.5, -5.2], [-23.6, -5.5],
    [-24.1, -6.3], [-22.7, -6.1], [-21.2, -6.8], [-23.6, -7.6], [-22.7, -7.7], [-24, -8.7],
    [-15.9, -5.1], [-15.5, -6.2], [-0.2, -6.2], [-21.5, -10.3], [-21.2, -13], [-19.9, -13],
    [-19.3, -12.7], [-17.8, -13], [-18.6, -14.4], [-17.9, -14], [-18.3, -15.2], [-16.5, -10.7],
    [-15.9, -11], [-16.5, -12.1], [-15.8, -12.5], [-15.5, -12.7], [-14.1, -12.4], [-13, -9.6],
    [-12.9, -11.8], [-3.5, -9.3], [-2.3, -9.5], [-3.7, -11.9], [-3.5, -13.1], [-5.1, -13.6],
]
E_TYPE4 = [
    [-10.1, -2.4], [6, 4.8], [7.6, 5.5], [7.4, 4.8], [8.3, 4.8], [8.8, 4.6], [-6.4, -4.6],
    [-6.9, -5], [-5.1, -6.2], [-3.5, -6.5], [-7.8, -8.2], [-6.8, -8.3], [-7.8, -10.1],
    [-1.6, -10], [6.5, -10.4], [-7.6, -11.9], [-9.2, -12.5], [-7.6, -12.5], [-1.6, -12.7],
    [-4.7, -14.4], [-3.2, -14.4], [-2.1, -14.1], [-1.1, -14.1], [-3.5, -15.1], [-1.1, -15],
    [-6.4, -15.7], [-5.1, -16.1], [-4.4, -16.4], [-4, -16.8], [-2.6, -16.1], [-1.2, -16.7],
    [-0.4, -15.9], [0.5, -15.9], [9.3, -16.6], [9.8, -16.3], [10.5, -15], [11.2, -15.3],
    [11.9, -14.8], [12, -16.5], [12.3, -13.6], [12.7, -13.7], [13.7, -14],
]

PANELS = [
    [A_NORMAL, A_TYPE1, A_TYPE2, A_TYPE3, A_TYPE4],
    [B_NORMAL, B_TYPE1, B_TYPE2, B_TYPE3, B_TYPE4],
    [C_NORMAL, C_TYPE1, C_TYPE2, C_TYPE3, C_TYPE4],
    [D_NORMAL, D_TYPE1, D_TYPE2, D_TYPE3, D_TYPE4],
    [E_NORMAL, E_TYPE1, E_TYPE2, E_TYPE3, E_TYPE4],
]

# axis limits and tick steps per panel
X_RANGES = [[-33.5, 47.8], [-27.7, 42.9], [-27.9, 39.8], [-23.2, 41.15], [-28.3, 41.2]]
Y_RANGES = [[-25.6, 24.1], [-23.9, 20.8], [-24.0, 20.5], [-24.25, 19.0], [-18.6, 19.2]]
Y_DTICK = [10, 5, 5, 5, 5]

# --- layout in pixels (page is 1891 x 380)
W, H = 1891, 380
BOXES = [  # left, right, top, bottom
    (35, 370, 7.3, 332.7),
    (412.3, 747.3, 9, 334),
    (790.3, 1125.3, 10, 335),
    (1170.3, 1505.3, 9.3, 335),
    (1549.3, 1883.3, 9.3, 335),
]
TAG_X = [190, 579, 949, 1337, 1722]
FONT = "DejaVu Sans"

def px(x):
    return x / W

def py(y):
    return 1 - y / H

fig = go.Figure()
layout = {}
annotations = []
shapes = []
for i, groups in enumerate(PANELS):
    n = "" if i == 0 else str(i + 1)
    for label, color, pts in zip(LABELS, COLORS, groups):
        fig.add_trace(go.Scatter(
            x=[p[0] for p in pts], y=[p[1] for p in pts],
            mode="markers", name=label, showlegend=False,
            marker=dict(color=color, size=7.5, line=dict(width=0)),
            xaxis="x" + n, yaxis="y" + n,
        ))
    l, r, t, b = BOXES[i]
    common = dict(showline=True, mirror=True, linecolor="black", linewidth=1,
                  showgrid=False, zeroline=False, ticks="outside", ticklen=4,
                  tickcolor="black", tickfont=dict(family=FONT, size=10.5, color="black"))
    layout["xaxis" + n] = dict(domain=[px(l), px(r)], range=X_RANGES[i], dtick=10,
                               anchor="y" + n, **common)
    layout["yaxis" + n] = dict(domain=[py(b), py(t)], range=Y_RANGES[i],
                               dtick=Y_DTICK[i], anchor="x" + n, **common)

    # matplotlib-like legend box in the top-right corner of each panel
    bx1, by0 = r - 4.5, t + 5.3
    bx0, by1 = bx1 - 71.4, by0 + 77.3
    shapes.append(dict(type="rect", xref="paper", yref="paper",
                       x0=px(bx0), x1=px(bx1), y0=py(by1), y1=py(by0),
                       line=dict(color="#d0d0d0", width=1),
                       fillcolor="rgba(255,255,255,0.8)", layer="above"))
    for k, (label, color) in enumerate(zip(LABELS, COLORS)):
        cx, cy = bx0 + 14, by0 + 9 + 14.75 * k
        shapes.append(dict(type="circle", xref="paper", yref="paper",
                           x0=px(cx - 3.4), x1=px(cx + 3.4), y0=py(cy + 3.4), y1=py(cy - 3.4),
                           fillcolor=color, line=dict(width=0), layer="above"))
        annotations.append(dict(text=label, x=px(bx0 + 31), y=py(cy), xref="paper", yref="paper",
                                showarrow=False, xanchor="left", yanchor="middle",
                                font=dict(family=FONT, size=10.5, color="black")))

    annotations.append(dict(text="<b>" + TAGS[i] + "</b>", x=px(TAG_X[i]), y=py(366),
                            xref="paper", yref="paper", showarrow=False,
                            xanchor="center", yanchor="middle",
                            font=dict(family="Liberation Serif", size=22, color="black")))

fig.update_layout(width=W, height=H, margin=dict(l=0, r=0, t=0, b=0),
                  paper_bgcolor="white", plot_bgcolor="white", showlegend=False,
                  annotations=annotations, shapes=shapes, **layout)
# the page's default body margin would push the figure 8px down/right
fig.write_html("out.html", config={"displayModeBar": False},
               post_script="document.body.style.margin='0';")
